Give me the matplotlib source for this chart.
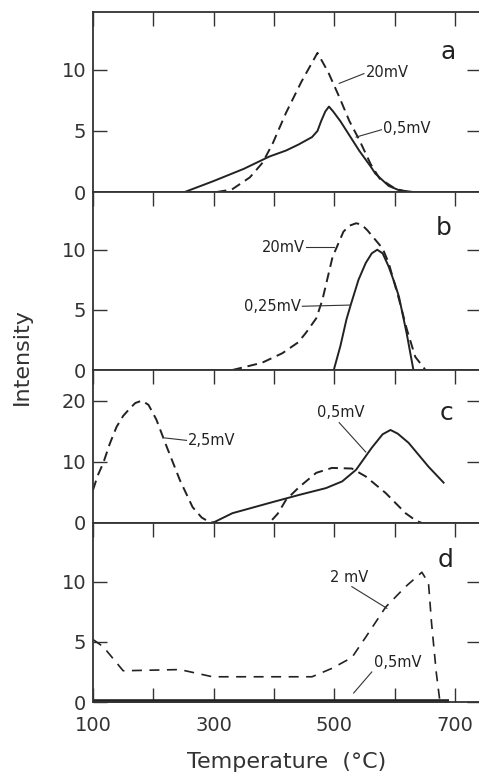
import numpy as np
import matplotlib
matplotlib.use("Agg")
import matplotlib.pyplot as plt

plt.rcParams.update({'font.size': 14, 'font.family': 'DejaVu Sans'})

# panel a
a_solid_x = [252, 300, 350, 392, 420, 441, 463, 472, 478, 485, 491, 498, 510, 541, 560, 568, 590, 607, 630]
a_solid_y = [0, 0.9, 1.9, 2.9, 3.4, 3.9, 4.5, 5.0, 5.8, 6.6, 7.0, 6.6, 5.8, 3.4, 2.1, 1.5, 0.5, 0.15, 0]
a_dash_x = [305, 330, 360, 381, 398, 420, 445, 472, 490, 508, 525, 541, 560, 575, 600, 620]
a_dash_y = [0, 0.2, 1.2, 2.4, 4.0, 6.5, 9.0, 11.4, 9.8, 7.8, 5.8, 4.3, 2.3, 1.1, 0.3, 0]

# panel b
b_solid_x = [499, 510, 520, 527, 540, 552, 562, 571, 580, 590, 600, 607, 620, 631]
b_solid_y = [0, 2.0, 4.2, 5.4, 7.5, 8.9, 9.7, 10.0, 9.7, 8.6, 7.2, 6.1, 3.0, 0]
b_dash_x = [331, 380, 414, 440, 453, 470, 480, 497, 515, 525, 536, 545, 555, 580, 590, 607, 620, 634, 651]
b_dash_y = [0, 0.6, 1.4, 2.3, 3.1, 4.3, 5.8, 9.4, 11.5, 12.0, 12.2, 12.1, 11.6, 10.1, 8.9, 5.9, 3.4, 1.1, 0]

# panel c
c_solid_x = [298, 331, 397, 442, 486, 513, 536, 562, 580, 593, 605, 623, 656, 681]
c_solid_y = [0, 1.6, 3.4, 4.6, 5.7, 6.8, 8.7, 12.3, 14.5, 15.2, 14.6, 13.1, 9.2, 6.6]
c_dash_x = [100, 108, 117, 128, 139, 150, 160, 170, 181, 192, 205, 222, 244, 265, 280, 292, 305,
            392, 406, 420, 442, 470, 496, 529, 552, 585, 618, 635, 645, 684]
c_dash_y = [5.4, 7.8, 9.8, 13.0, 15.7, 17.5, 18.6, 19.6, 20.0, 19.3, 16.9, 12.5, 7.0, 2.6, 0.9, 0.2, 0,
            0, 1.5, 3.8, 5.9, 8.2, 9.0, 8.9, 7.6, 4.9, 1.6, 0.4, 0, 0]

# panel d
d_solid_x = [100, 690]
d_solid_y = [0.1, 0.1]
d_dash_x = [100, 117, 150, 244, 298, 397, 463, 496, 529, 552, 585, 618, 645, 656, 661, 669, 675]
d_dash_y = [5.2, 4.6, 2.6, 2.7, 2.1, 2.1, 2.1, 2.8, 3.7, 5.4, 7.9, 9.6, 10.8, 9.9, 6.6, 2.4, 0]

letters = ['a', 'b', 'c', 'd']
letter_pos = [(689, 11.5), (681, 11.8), (686, 18.0), (684, 11.8)]
ylims = [14.75, 14.8, 25, 14.9]
yticks = [[0, 5, 10], [0, 5, 10], [0, 10, 20], [0, 5, 10]]
xticks = [100, 200, 300, 400, 500, 600, 700]
xticklabels = ['100', '', '300', '', '500', '', '700']

# label text, text pos, leader start, leader end, ha
notes = [
    [("20mV", (552, 9.8), (508, 8.9), (549, 9.7), 'left'),
     ("0,5mV", (580, 5.2), (536, 4.5), (578, 5.1), 'left')],
    [("20mV", (451, 10.2), (453, 10.2), (499, 10.2), 'right'),
     ("0,25mV", (445, 5.3), (447, 5.3), (527, 5.4), 'right')],
    [("2,5mV", (257, 13.4), (219, 13.9), (255, 13.5), 'left'),
     ("0,5mV", (511, 18.0), (508, 16.4), (552, 11.6), 'center')],
    [("2 mV", (524, 10.4), (529, 9.6), (587, 7.8), 'center'),
     ("0,5mV", (565, 3.3), (532, 0.75), (562, 2.5), 'left')],
]

curves = [
    (a_solid_x, a_solid_y, a_dash_x, a_dash_y),
    (b_solid_x, b_solid_y, b_dash_x, b_dash_y),
    (c_solid_x, c_solid_y, c_dash_x, c_dash_y),
    (d_solid_x, d_solid_y, d_dash_x, d_dash_y),
]

fig = plt.figure(figsize=(4.79, 7.76), dpi=100)
W, H = 479., 776.
left, right = 93 / W, 481 / W
edges = [12, 192, 370, 523, 702]  # pixel rows of panel borders

for i in range(4):
    top = 1 - edges[i] / H
    bot = 1 - edges[i + 1] / H
    ax = fig.add_axes([left, bot, right - left, top - bot])
    sx, sy, dx, dy = curves[i]
    if i == 3:
        ax.plot(sx, sy, color='#222222', lw=2.6, solid_capstyle='butt', clip_on=False)
        ax.plot(dx, dy, color='#222222', lw=1.2, linestyle=(0, (6, 4.5)))
    else:
        ax.plot(sx, sy, color='#222222', lw=1.4)
        ax.plot(dx, dy, color='#222222', lw=1.4, linestyle=(0, (5, 3)))
    for txt, tpos, p0, p1, ha in notes[i]:
        ax.plot([p0[0], p1[0]], [p0[1], p1[1]], color='#333333', lw=0.8)
        ax.text(tpos[0], tpos[1], txt, ha=ha, va='center', fontsize=10.5, color='#222222')
    ax.text(letter_pos[i][0], letter_pos[i][1], letters[i], ha='center', va='center',
            fontsize=18, color='#222222')
    ax.set_xlim(100, 743)
    ax.set_ylim(0, ylims[i])
    ax.set_yticks(yticks[i])
    ax.set_xticks(xticks)
    ax.tick_params(axis='both', direction='in', length=10, width=1.0, color='#333333',
                   labelcolor='#333333')
    ax.tick_params(axis='y', right=True, pad=5)
    if i == 3:
        ax.tick_params(axis='x', top=True, bottom=True, pad=10)
        ax.set_xticklabels(xticklabels)
        ax.set_xlabel('Temperature  (°C)', fontsize=16, color='#333333', labelpad=12)
    else:
        ax.tick_params(axis='x', top=True, bottom=False, labelbottom=False)
    for s in ax.spines.values():
        s.set_linewidth(1.3)
        s.set_color('#333333')

fig.text(22 / W, 1 - 357 / H, 'Intensity', rotation=90, ha='center', va='center',
         fontsize=16, color='#333333')

fig.savefig('out.png', dpi=100)
